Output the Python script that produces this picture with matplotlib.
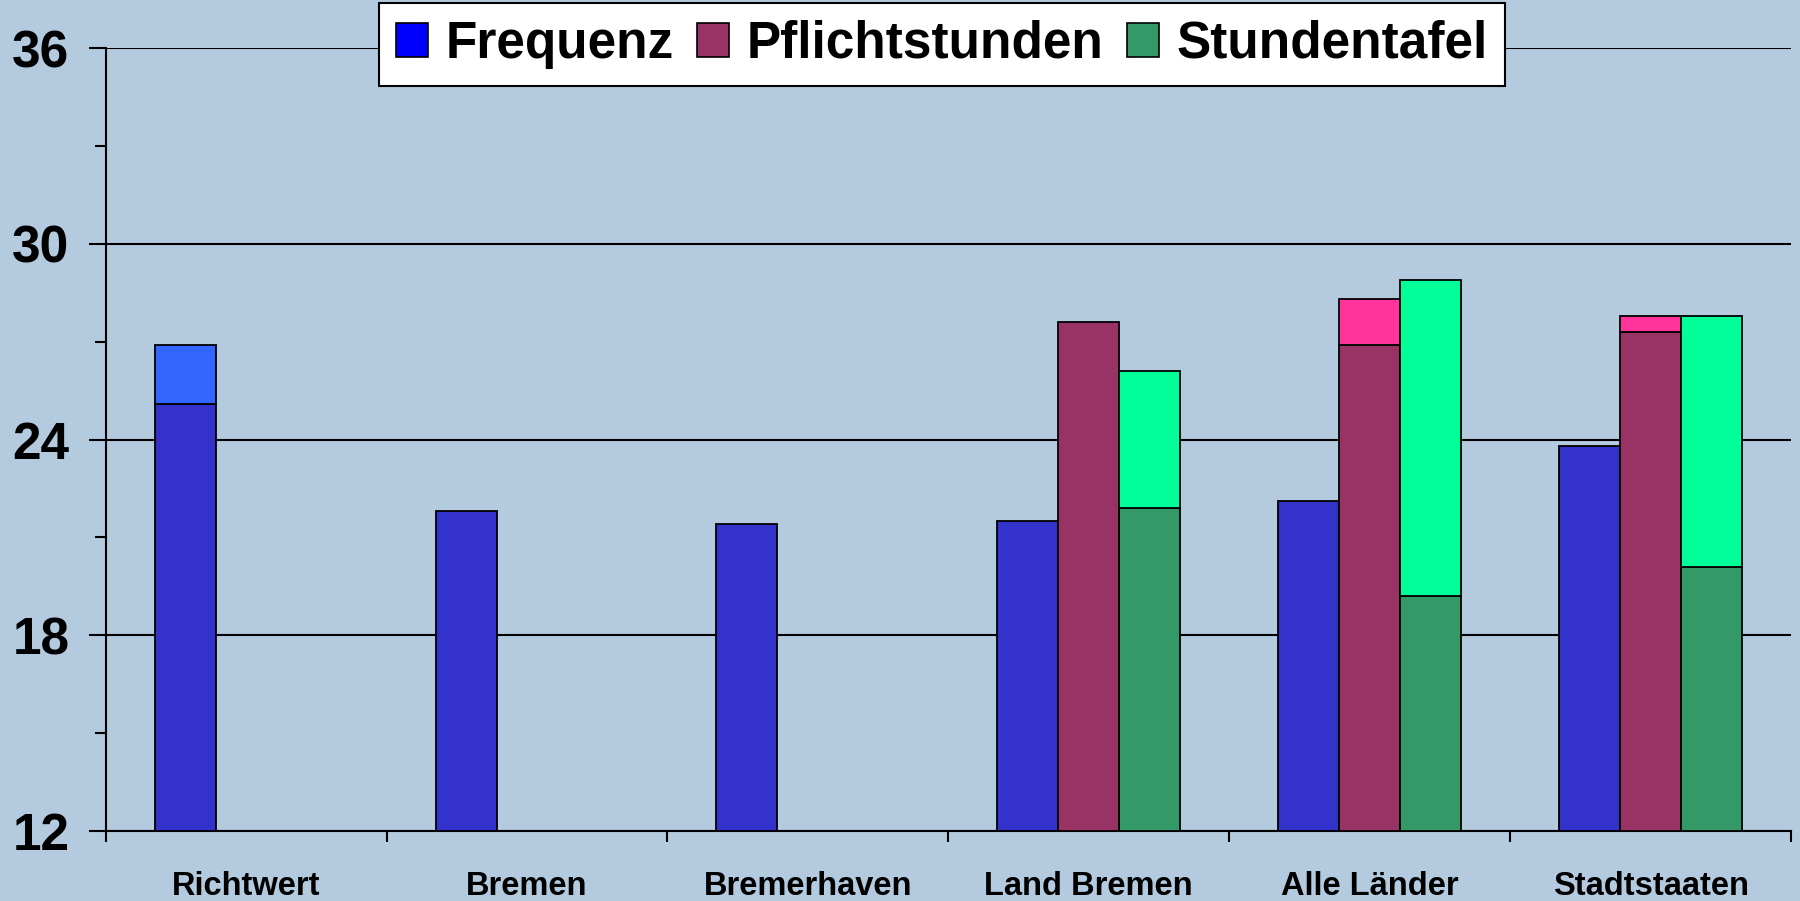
import numpy as np
import matplotlib.pyplot as plt
from matplotlib.patches import Patch

""" Chart data (hours per week) """
categories = ['Richtwert', 'Bremen', 'Bremerhaven', 'Land Bremen', 'Alle Länder', 'Stadtstaaten']
frequenz = [25.1, 21.8, 21.4, 21.5, 22.1, 23.8]
frequenz_top = [26.9, np.nan, np.nan, np.nan, np.nan, np.nan]
pflicht = [np.nan, np.nan, np.nan, 27.6, 26.9, 27.3]
pflicht_top = [np.nan, np.nan, np.nan, np.nan, 28.3, 27.8]
stundentafel = [np.nan, np.nan, np.nan, 21.9, 19.2, 20.1]
stundentafel_top = [np.nan, np.nan, np.nan, 26.1, 28.9, 27.8]
legend_labels = ['Frequenz', 'Pflichtstunden', 'Stundentafel']
y_ticks = [12, 18, 24, 30, 36]

# ============================================================================
plt.rcParams['font.family'] = ['Liberation Sans', 'DejaVu Sans']
plt.rcParams['font.weight'] = 'bold'

bg = '#B3CADF'
fig = plt.figure(figsize=(18, 9.01), dpi=100, facecolor=bg)
ax = fig.add_axes([0.0587, 0.0777, 0.9363, 0.869])
ax.set_facecolor(bg)

x = np.arange(len(categories))
w = 0.217
base = 12
edge = dict(edgecolor='black', linewidth=1.3, zorder=3)


def stacked(xpos, low, top, c_low, c_top):
    low = np.array(low)
    top = np.array(top)
    ok = ~np.isnan(low)
    ax.bar(xpos[ok], low[ok] - base, bottom=base, width=w, color=c_low, **edge)
    ok2 = ~np.isnan(top)
    ax.bar(xpos[ok2], top[ok2] - low[ok2], bottom=low[ok2], width=w, color=c_top, **edge)


stacked(x - w, frequenz, frequenz_top, '#3333CC', '#3366FF')
stacked(x, pflicht, pflicht_top, '#993366', '#FF3399')
stacked(x + w, stundentafel, stundentafel_top, '#339966', '#00FF99')

# ============================================================================
""" Axes, ticks and grid """
ax.set_xlim(-0.5, len(categories) - 0.5)
ax.set_ylim(12, 36)
ax.set_yticks(y_ticks)
ax.set_yticks([15, 21, 27, 33], minor=True)
ax.tick_params(axis='y', which='major', length=12, width=1.5, labelsize=37, pad=14)
ax.tick_params(axis='y', which='minor', length=8, width=1.5)
ax.yaxis.grid(True, which='major', color='black', linewidth=1.5, zorder=1)
ax.set_axisbelow(True)

ax.set_xticks(np.arange(len(categories) + 1) - 0.5)
ax.set_xticklabels([])
ax.set_xticks(x, minor=True)
ax.set_xticklabels(categories, minor=True)
ax.tick_params(axis='x', which='major', length=8, width=1.5, direction='out')
ax.tick_params(axis='x', which='minor', length=0, labelsize=23.5, pad=29)

for s in ['top', 'right']:
    ax.spines[s].set_visible(False)
for s in ['left', 'bottom']:
    ax.spines[s].set_linewidth(1.5)

# ============================================================================
""" Legend """
handles = [Patch(facecolor=c, edgecolor='black', linewidth=1.2)
           for c in ['#0000FF', '#993366', '#339966']]
leg = fig.legend(handles, legend_labels, loc='upper center', ncol=3,
                 bbox_to_anchor=(942 / 1800, 1 - 3 / 901),
                 prop={'size': 37, 'weight': 'bold'},
                 frameon=True, fancybox=False, edgecolor='black',
                 handlelength=0.62, handleheight=0.62, handletextpad=0.35,
                 columnspacing=0.45, borderpad=0.33, borderaxespad=0)
leg.get_frame().set_linewidth(1.5)
leg.get_frame().set_facecolor('white')
leg.get_frame().set_alpha(1)

fig.savefig('out.png', dpi=100, facecolor=bg)
